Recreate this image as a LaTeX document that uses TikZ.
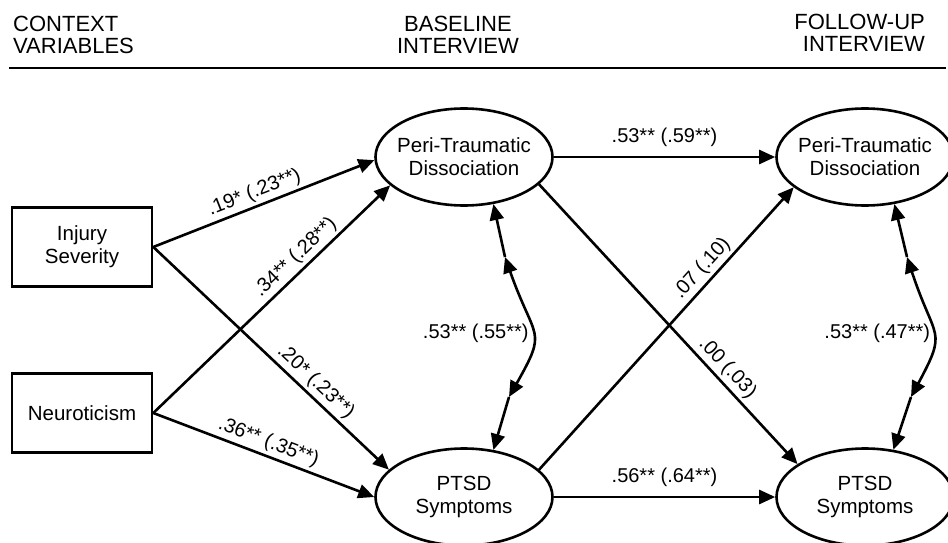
\documentclass[tikz,border=0pt]{standalone}
\usepackage{fontspec}
\setmainfont{Liberation Sans}
\usetikzlibrary{shapes.geometric,arrows.meta}
\begin{document}
\begin{tikzpicture}[x=1pt,y=1pt,
  every node/.style={inner sep=0pt},
  box/.style={draw, line width=2.6pt, minimum width=140pt, minimum height=79pt, align=center, font=\fontsize{20.5}{23}\selectfont},
  ell/.style={draw, ellipse, line width=2.6pt, minimum width=177pt, minimum height=97pt, inner sep=-12pt, align=center, font=\fontsize{20.5}{23}\selectfont},
  hdr/.style={font=\fontsize{22}{22}\selectfont},
  arr/.style={line width=2.6pt, -{Triangle[length=16pt,width=14pt]}},
  barr/.style={line width=2.6pt, {Triangle[length=16pt,width=14pt]}-{Triangle[length=16pt,width=14pt]}},
  lab/.style={font=\fontsize{20}{20}\selectfont, inner sep=3pt, sloped, above},
  hlab/.style={font=\fontsize{20}{20}\selectfont, inner sep=0pt, above=9pt}
]
\useasboundingbox (0,0) rectangle (948,-543);

% headers
\node[hdr, anchor=base west, align=left] (h1) at (13,-54) {CONTEXT\\VARIABLES};
\node[hdr, anchor=base, align=center] (h2) at (458,-54) {BASELINE\\INTERVIEW};
\node[hdr, anchor=base east, align=right] (h3) at (925,-52) {FOLLOW-UP\\INTERVIEW};
\coordinate (rl) at (9,-68);
\coordinate (rr) at (946,-68);
\draw[line width=2.8pt] (rl) -- (rr);

% nodes
\node[box] (inj) at (82,-247) {Injury\\Severity};
\node[box] (neu) at (82,-413) {Neuroticism};
\node[ell] (ptd1) at (464,-157) {Peri-Traumatic\\Dissociation};
\node[ell] (ptsd1) at (464,-497) {PTSD\\Symptoms};
\node[ell] (ptd2) at (865,-157) {Peri-Traumatic\\Dissociation};
\node[ell] (ptsd2) at (865,-497) {PTSD\\Symptoms};

% paths
\draw[arr] (inj.east) -- node[lab, pos=0.48] {.19* (.23**)} (ptd1.182);
\draw[arr] (inj.east) -- node[lab, pos=0.65] {.20* (.23**)} (ptsd1.160);
\draw[arr] (neu.east) -- node[lab, pos=0.64] {.34** (.28**)} (ptd1.201);
\draw[arr] (neu.east) -- node[lab, pos=0.5] {.36** (.35**)} (ptsd1.west);

\draw[arr] (ptd1.east) -- node[hlab, midway] {.53** (.59**)} (ptd2.west);
\draw[arr] (ptsd1.east) -- node[hlab, midway] {.56** (.64**)} (ptsd2.west);
\draw[arr] (ptd1.340) -- node[lab, pos=0.69] {.00 (.03)} (ptsd2.154);
\draw[arr] (ptsd1.20) -- node[lab, pos=0.68] {.07 (.10)} (ptd2.203);

% correlations
\coordinate (a1) at (505,-257);
\coordinate (a2) at (509,-397);
\coordinate (b1) at (907,-257);
\coordinate (b2) at (911,-397);
\draw[arr] (a1) -- (ptd1.302);
\draw[arr] (a2) -- (ptsd1.58);
\draw[barr] (a1) .. controls (535,-342) and (548,-328) .. node[pos=0.5, anchor=east, xshift=-3pt, font=\fontsize{20}{20}\selectfont] {.53** (.55**)} (a2);
\draw[arr] (b1) -- (ptd2.302);
\draw[arr] (b2) -- (ptsd2.59);
\draw[barr] (b1) .. controls (935,-342) and (948,-328) .. node[pos=0.5, anchor=east, xshift=-2pt, font=\fontsize{20}{20}\selectfont] {.53** (.47**)} (b2);
\end{tikzpicture}
\end{document}
